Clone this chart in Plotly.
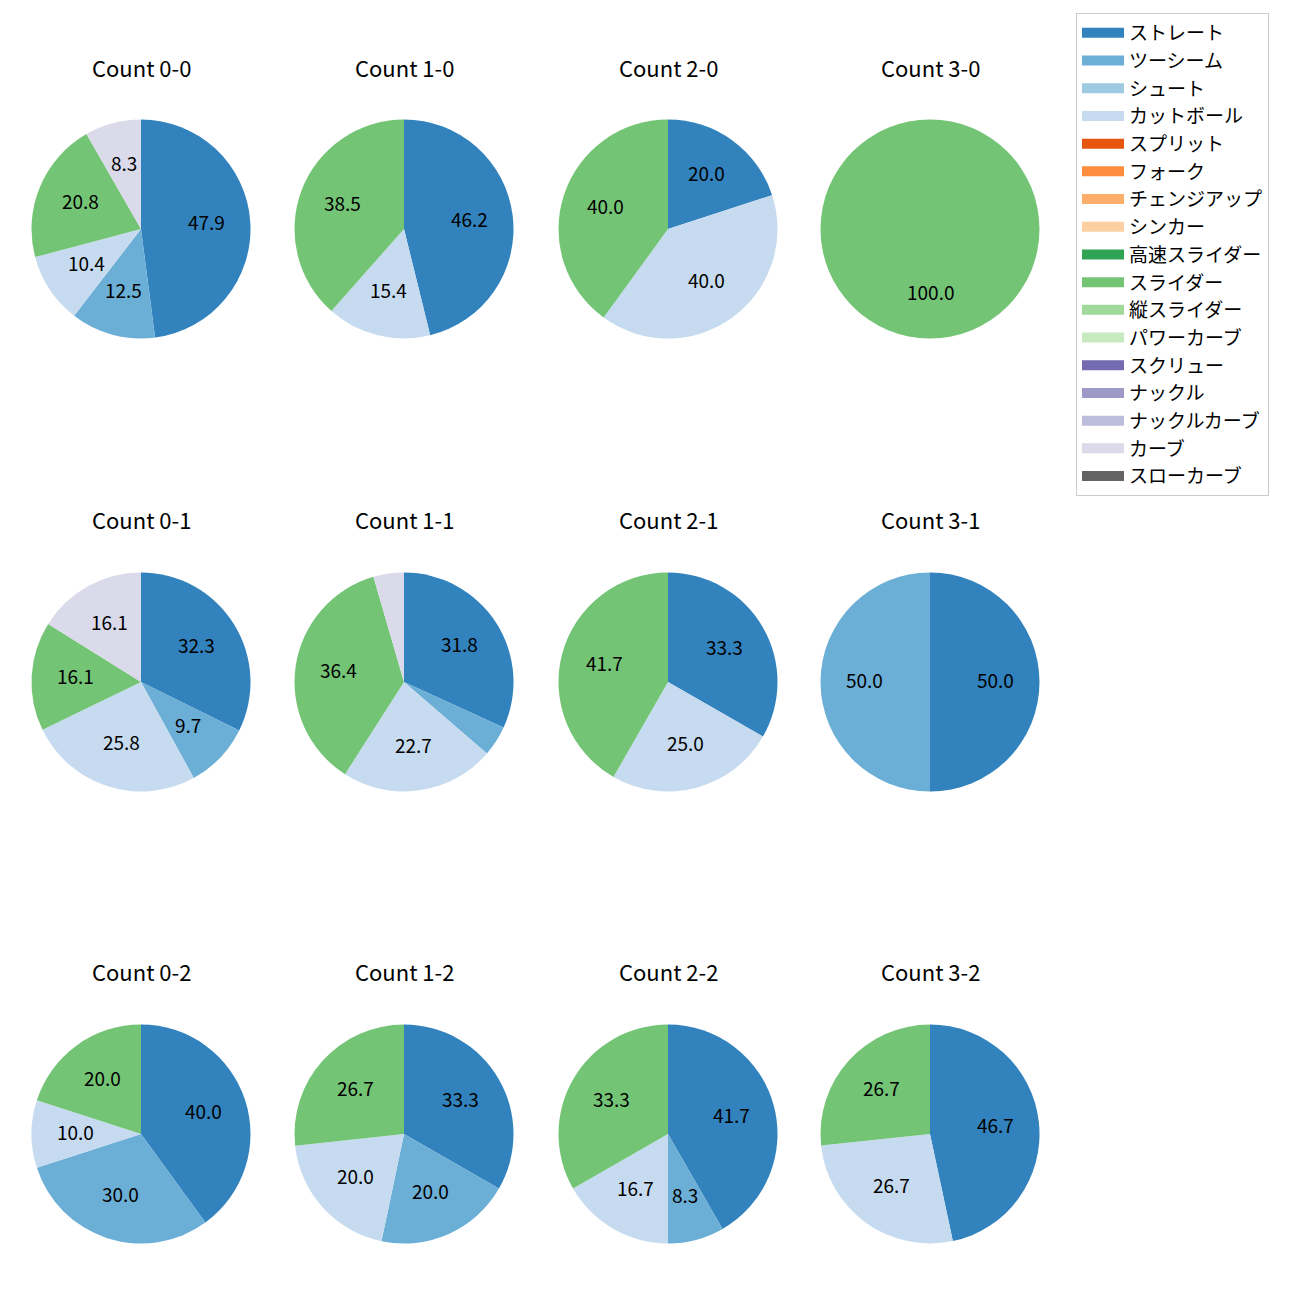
import math
import plotly.graph_objects as go

# ---- data ----
pitch_types = ["ストレート", "ツーシーム", "シュート", "カットボール", "スプリット", "フォーク",
               "チェンジアップ", "シンカー", "高速スライダー", "スライダー", "縦スライダー",
               "パワーカーブ", "スクリュー", "ナックル", "ナックルカーブ", "カーブ", "スローカーブ"]
pitch_colors = ["#3182bd", "#6baed6", "#9ecae1", "#c6dbef", "#e6550d", "#fd8d3c",
                "#fdae6b", "#fdd0a2", "#31a354", "#74c476", "#a1d99b",
                "#c7e9c0", "#756bb1", "#9e9ac8", "#bcbddc", "#dadaeb", "#636363"]

count_titles = ["Count 0-0", "Count 1-0", "Count 2-0", "Count 3-0",
                "Count 0-1", "Count 1-1", "Count 2-1", "Count 3-1",
                "Count 0-2", "Count 1-2", "Count 2-2", "Count 3-2"]

c00_types = ["ストレート", "ツーシーム", "カットボール", "スライダー", "カーブ"]
c00_vals = [47.9, 12.5, 10.4, 20.8, 8.3]
c10_types = ["ストレート", "カットボール", "スライダー"]
c10_vals = [46.2, 15.4, 38.5]
c20_types = ["ストレート", "カットボール", "スライダー"]
c20_vals = [20.0, 40.0, 40.0]
c30_types = ["スライダー"]
c30_vals = [100.0]
c01_types = ["ストレート", "ツーシーム", "カットボール", "スライダー", "カーブ"]
c01_vals = [32.3, 9.7, 25.8, 16.1, 16.1]
c11_types = ["ストレート", "ツーシーム", "カットボール", "スライダー", "カーブ"]
c11_vals = [31.8, 4.5, 22.7, 36.4, 4.5]
c21_types = ["ストレート", "カットボール", "スライダー"]
c21_vals = [33.3, 25.0, 41.7]
c31_types = ["ストレート", "ツーシーム"]
c31_vals = [50.0, 50.0]
c02_types = ["ストレート", "ツーシーム", "カットボール", "スライダー"]
c02_vals = [40.0, 30.0, 10.0, 20.0]
c12_types = ["ストレート", "ツーシーム", "カットボール", "スライダー"]
c12_vals = [33.3, 20.0, 20.0, 26.7]
c22_types = ["ストレート", "ツーシーム", "カットボール", "スライダー"]
c22_vals = [41.7, 8.3, 16.7, 33.3]
c32_types = ["ストレート", "カットボール", "スライダー"]
c32_vals = [46.7, 26.7, 26.7]

count_types = [c00_types, c10_types, c20_types, c30_types,
               c01_types, c11_types, c21_types, c31_types,
               c02_types, c12_types, c22_types, c32_types]
count_vals = [c00_vals, c10_vals, c20_vals, c30_vals,
              c01_vals, c11_vals, c21_vals, c31_vals,
              c02_vals, c12_vals, c22_vals, c32_vals]

# ---- layout geometry (pixels, page coordinates; page body has 8px margin) ----
W = H = 1300
OFF = 8
col_cx = [141, 404, 668, 930]
row_cy = [229, 682, 1134]
title_y = [69, 521, 973]
R = 109.5
FONT = "Noto Sans CJK JP"

color_of = dict(zip(pitch_types, pitch_colors))

fig = go.Figure()
for i, (title, types, vals) in enumerate(zip(count_titles, count_types, count_vals)):
    r, c = divmod(i, 4)
    cx = col_cx[c] - OFF
    cy = H - (row_cy[r] - OFF)
    fig.add_trace(go.Pie(
        labels=types, values=vals, sort=False, direction="clockwise", rotation=0,
        marker=dict(colors=[color_of[t] for t in types], line=dict(width=0)),
        textinfo="none",
        domain=dict(x=[(cx - R) / W, (cx + R) / W], y=[(cy - R) / H, (cy + R) / H]),
        showlegend=False, hoverinfo="label+percent", name=title,
    ))
    fig.add_annotation(text=title, x=cx / W, y=1 - (title_y[r] - OFF) / H,
                       xref="paper", yref="paper", yshift=2,
                       xanchor="center", yanchor="middle", showarrow=False,
                       font=dict(family=FONT, size=22, color="black"))
    # percentage labels at 0.6 of the radius along each slice's mid-angle
    total = sum(vals)
    cum = 0.0
    for v in vals:
        frac = v / total
        mid = math.radians(90 - (cum + frac / 2) * 360)
        cum += frac
        if v < 5:
            continue
        lx = cx + 0.6 * R * math.cos(mid)
        ly = cy + 0.6 * R * math.sin(mid)
        fig.add_annotation(text=f"{v:.1f}", x=lx / W, y=ly / H, xref="paper", yref="paper",
                           xanchor="center", yanchor="middle", showarrow=False, yshift=3,
                           font=dict(family=FONT, size=19, color="black"))

# legend entries
for t, col in zip(pitch_types, pitch_colors):
    fig.add_trace(go.Scatter(x=[None], y=[None], mode="lines", name=t, legendgroup=t,
                             line=dict(color=col, width=13), showlegend=True, hoverinfo="skip"))

fig.update_layout(
    width=W, height=H, margin=dict(l=0, r=0, t=0, b=0),
    paper_bgcolor="white", plot_bgcolor="white",
    xaxis=dict(visible=False), yaxis=dict(visible=False),
    font=dict(family=FONT, color="black"),
    legend=dict(x=(1076 - OFF) / W, y=1 - (13 - OFF) / H, xanchor="left", yanchor="top",
                bgcolor="white", bordercolor="#cccccc", borderwidth=1,
                font=dict(family=FONT, size=19, color="black"),
                itemwidth=42,
                tracegroupgap=0, traceorder="grouped"),
)

fig.write_html("out.html")
